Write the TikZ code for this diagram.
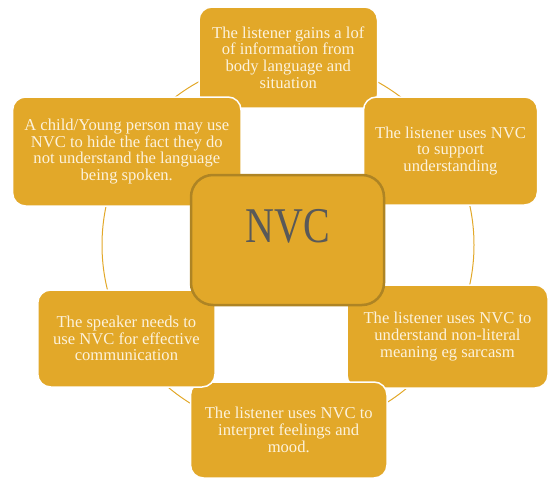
\documentclass[tikz,border=0pt]{standalone}
\usepackage{fontspec}
\setmainfont{Liberation Serif}
\definecolor{gold}{HTML}{E2A829}
\definecolor{cream}{HTML}{FCF2DC}
\definecolor{goldedge}{HTML}{AE8424}
\definecolor{nvcgray}{HTML}{595959}
\begin{document}
\begin{tikzpicture}[x=1pt,y=-1pt,
  item/.style={draw=white, line width=1.5pt, fill=gold, rounded corners=13pt,
    text=cream, align=center, inner sep=0pt,
    font=\fontsize{16.6}{16.7}\selectfont},
  hub/.style={draw=goldedge, line width=2.5pt, fill=gold, rounded corners=22pt, inner sep=0pt},
  hublabel/.style={text=nvcgray, inner sep=0pt, font=\fontsize{50}{50}\selectfont},
  ring/.style={draw=gold, line width=1pt}]
\useasboundingbox (0,0) rectangle (548,479);
\coordinate (ringc) at (288,245);
\draw[ring] (ringc) circle [radius=186pt];
\node[item, minimum width=178.5pt, minimum height=101pt] (top) at (288.25,57.5)
  {The listener gains a lof\\of information from\\body language and\\situation};
\node[item, minimum width=174pt, minimum height=108pt] (topright) at (450.5,151)
  {The listener uses NVC\\to support\\understanding};
\node[item, minimum width=201pt, minimum height=103pt] (bottomright) at (447.5,336.5)
  {The listener uses NVC to\\understand non-literal\\meaning eg sarcasm};
\node[item, minimum width=196.5pt, minimum height=96pt] (bottom) at (288.75,430)
  {The listener uses NVC to\\interpret feelings and\\mood.};
\node[item, minimum width=177.3pt, minimum height=97pt] (bottomleft) at (126.4,338.5)
  {The speaker needs to\\use NVC for effective\\communication};
\node[item, minimum width=228.4pt, minimum height=109pt] (topleft) at (126.8,151.5)
  {A child/Young person may use\\NVC to hide the fact they do\\not understand the language\\being spoken.};
\node[hub, minimum width=193pt, minimum height=130pt] (hub) at (287.5,240) {};
\node[hublabel] (hubtext) at (287.5,226) {\scalebox{0.8}[1]{NVC}};
\end{tikzpicture}
\end{document}
